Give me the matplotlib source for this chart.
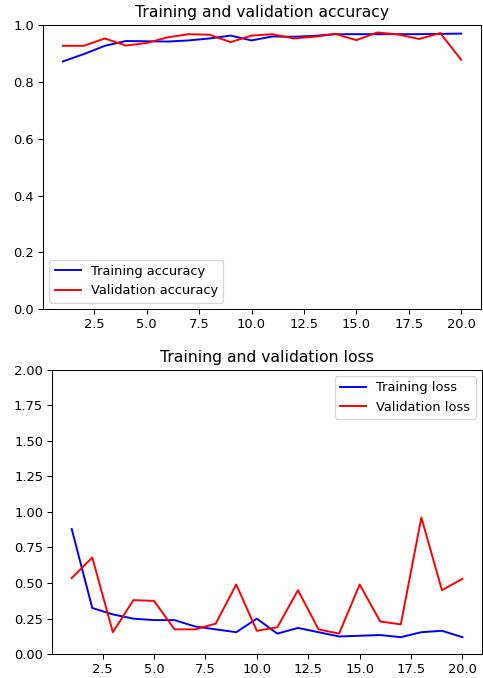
import numpy as np
import matplotlib
matplotlib.use("Agg")
import matplotlib.pyplot as plt

### Training history of a 20-epoch model: accuracy and loss curves

epochs = list(range(1, 21))

acc = [0.872, 0.898, 0.927, 0.944, 0.943, 0.942, 0.946, 0.953, 0.963, 0.946,
       0.960, 0.959, 0.962, 0.968, 0.968, 0.968, 0.968, 0.968, 0.969, 0.970]
val_acc = [0.927, 0.927, 0.953, 0.928, 0.937, 0.957, 0.968, 0.966, 0.940, 0.963,
           0.968, 0.953, 0.959, 0.969, 0.947, 0.974, 0.967, 0.951, 0.972, 0.878]

loss = [0.88, 0.325, 0.28, 0.25, 0.24, 0.24, 0.195, 0.175, 0.155, 0.25,
        0.145, 0.185, 0.155, 0.125, 0.13, 0.135, 0.12, 0.155, 0.165, 0.12]
val_loss = [0.535, 0.68, 0.155, 0.38, 0.375, 0.175, 0.175, 0.215, 0.49, 0.165,
            0.19, 0.45, 0.175, 0.145, 0.49, 0.23, 0.21, 0.96, 0.45, 0.53]

dpi = 93.4
fig = plt.figure(figsize=(483/dpi, 678/dpi), dpi=dpi)

# accuracy
ax1 = fig.add_axes([0.089, 0.544, 0.907, 0.419])
ax1.plot(epochs, acc, 'b', label='Training accuracy')
ax1.plot(epochs, val_acc, 'r', label='Validation accuracy')
ax1.set_title('Training and validation accuracy')
ax1.set_ylim(0, 1)
ax1.legend(loc='lower left')

# loss
ax2 = fig.add_axes([0.108, 0.035, 0.890, 0.420])
ax2.plot(epochs, loss, 'b', label='Training loss')
ax2.plot(epochs, val_loss, 'r', label='Validation loss')
ax2.set_title('Training and validation loss')
ax2.set_ylim(0, 2)
ax2.legend(loc='upper right')

fig.savefig("out.png", dpi=dpi)
